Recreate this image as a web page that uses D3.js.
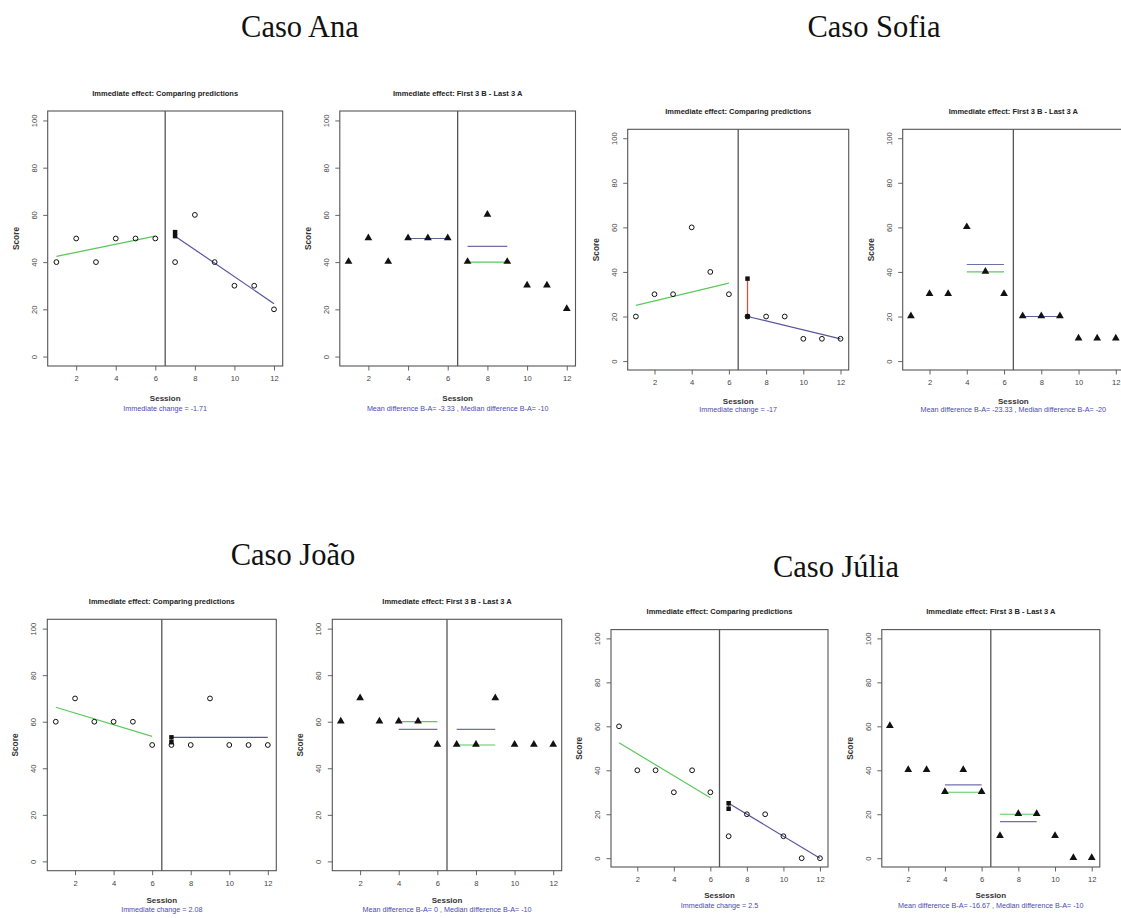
<!DOCTYPE html>
<html><head><meta charset="utf-8">
<script src="https://cdn.jsdelivr.net/npm/d3@7"></script>
<style>body{margin:0;background:#fff}svg{display:block}</style>
</head><body>
<script>
// ---------- data ----------
const caseNames = ["Caso Ana", "Caso Sofia", "Caso João", "Caso Júlia"];
const sessionsA = [1, 2, 3, 4, 5, 6];
const sessionsB = [7, 8, 9, 10, 11, 12];
const scoresA = [[40, 50, 40, 50, 50, 50], [20, 30, 30, 60, 40, 30], [60, 70, 60, 60, 60, 50], [60, 40, 40, 30, 40, 30]];
const scoresB = [[40, 60, 40, 30, 30, 20], [20, 20, 20, 10, 10, 10], [50, 50, 70, 50, 50, 50], [10, 20, 20, 10, 0, 0]];
const trendA = [[42.4, 51.0], [25, 35], [66.2, 53.7], [52.5, 27.5]];   // at sessions 1 and 6
const trendB = [[51.0, 22.4], [20, 10], [53.3, 53.3], [25, 0]];        // at sessions 7 and 12
const predictedA7 = [52.7, 37, 51.2, 22.5];
const predictedB7 = [51.0, 20, 53.3, 25];
const meanLastA = [50, 43.33, 56.67, 33.33];
const medianLastA = [50, 40, 60, 30];
const meanFirstB = [46.67, 20, 56.67, 16.67];
const medianFirstB = [40, 20, 50, 20];
const immediateLabels = ["Immediate change = -1.71", "Immediate change = -17", "Immediate change = 2.08", "Immediate change = 2.5"];
const diffLabels = [
  "Mean difference B-A= -3.33 , Median difference B-A= -10",
  "Mean difference B-A= -23.33 , Median difference B-A= -20",
  "Mean difference B-A= 0 , Median difference B-A= -10",
  "Mean difference B-A= -16.67 , Median difference B-A= -10"];
const xTicks = [2, 4, 6, 8, 10, 12];
const yTicks = [0, 20, 40, 60, 80, 100];
const titleLeft = "Immediate effect: Comparing predictions";
const titleRight = "Immediate effect: First 3 B - Last 3 A";
const xLabel = "Session", yLabel = "Score";
const phaseChange = 6.5;

// ---------- layout ----------
const layout = [
  {tx: 300, ty: 37, L: {l: 47.7, r: 282.7, t: 111, b: 366}, R: {l: 339.8, r: 575.5, t: 111, b: 366}, off: [35, 44.5]},
  {tx: 874, ty: 37, L: {l: 627.7, r: 848.7, t: 129.3, b: 370}, R: {l: 902.7, r: 1124, t: 129.3, b: 370}, off: [33.5, 42]},
  {tx: 293, ty: 565, L: {l: 47.3, r: 276.3, t: 619.3, b: 870.7}, R: {l: 332.3, r: 561.7, t: 619.3, b: 870.7}, off: [32, 41.5]},
  {tx: 836, ty: 577, L: {l: 611, r: 828, t: 629.6, b: 867}, R: {l: 881.8, r: 1099.8, t: 629.6, b: 867}, off: [31, 40.5]}
];

const GREEN = "#5cc85c", BLUE = "#55559c", RED = "#d05545", SUB = "#4a4ab0";
const FONT = "'Liberation Sans', Arial, sans-serif";

const svg = d3.select("body").append("svg").attr("width", 1121).attr("height", 918);

function frame(box, title, sub, off) {
  const g = svg.append("g");
  const x = d3.scaleLinear().domain([0.56, 12.44]).range([box.l, box.r]);
  const y = d3.scaleLinear().domain([-4, 104]).range([box.b, box.t]);
  const cx = (box.l + box.r) / 2, cy = (box.t + box.b) / 2;

  const ax = g.append("g").attr("transform", `translate(0,${box.b})`)
    .call(d3.axisBottom(x).tickValues(xTicks).tickSize(4.5).tickPadding(5));
  ax.select(".domain").remove();
  ax.selectAll("line").attr("stroke", "#666");
  ax.selectAll("text").attr("font-family", FONT).attr("font-size", 7.6).attr("fill", "#444");

  const ay = g.append("g").attr("transform", `translate(${box.l},0)`)
    .call(d3.axisLeft(y).tickValues(yTicks).tickSize(4.5));
  ay.select(".domain").remove();
  ay.selectAll("line").attr("stroke", "#666");
  ay.selectAll("text").attr("x", null).attr("dy", "0.35em").attr("text-anchor", "middle")
    .attr("transform", "translate(-13.5,0) rotate(-90)")
    .attr("font-family", FONT).attr("font-size", 7.6).attr("fill", "#444");

  g.append("rect").attr("x", box.l).attr("y", box.t).attr("width", box.r - box.l).attr("height", box.b - box.t)
    .attr("fill", "none").attr("stroke", "#555").attr("stroke-width", 1.1);
  g.append("line").attr("x1", x(phaseChange)).attr("x2", x(phaseChange)).attr("y1", box.t).attr("y2", box.b)
    .attr("stroke", "#555").attr("stroke-width", 1.3);

  g.append("text").attr("x", cx).attr("y", box.t - 15.5).attr("text-anchor", "middle")
    .attr("font-family", FONT).attr("font-size", 7.5).attr("font-weight", "bold").attr("fill", "#222").text(title);
  g.append("text").attr("transform", `translate(${box.l - 29},${cy}) rotate(-90)`).attr("text-anchor", "middle")
    .attr("font-family", FONT).attr("font-size", 8.3).attr("font-weight", "bold").attr("fill", "#333").text(yLabel);
  g.append("text").attr("x", cx).attr("y", box.b + off[0]).attr("text-anchor", "middle")
    .attr("font-family", FONT).attr("font-size", 8).attr("font-weight", "bold").attr("fill", "#333").text(xLabel);
  g.append("text").attr("x", cx).attr("y", box.b + off[1]).attr("text-anchor", "middle")
    .attr("font-family", FONT).attr("font-size", 7.2).attr("fill", SUB).text(sub);
  return {g, x, y};
}

caseNames.forEach((name, i) => {
  const lay = layout[i];
  svg.append("text").attr("x", lay.tx).attr("y", lay.ty).attr("text-anchor", "middle")
    .attr("font-family", "'Liberation Serif', 'Times New Roman', serif").attr("font-size", 30.5)
    .attr("fill", "#111").text(name);

  const pts = sessionsA.map((s, k) => ({s, v: scoresA[i][k]}))
    .concat(sessionsB.map((s, k) => ({s, v: scoresB[i][k]})));

  // ---- left panel: comparing predictions ----
  {
    const {g, x, y} = frame(lay.L, titleLeft, immediateLabels[i], lay.off);
    g.append("line").attr("x1", x(sessionsA[0])).attr("x2", x(sessionsA[5]))
      .attr("y1", y(trendA[i][0])).attr("y2", y(trendA[i][1])).attr("stroke", GREEN).attr("stroke-width", 1.2);
    g.append("line").attr("x1", x(sessionsB[0])).attr("x2", x(sessionsB[5]))
      .attr("y1", y(trendB[i][0])).attr("y2", y(trendB[i][1])).attr("stroke", BLUE).attr("stroke-width", 1.2);
    g.append("line").attr("x1", x(sessionsB[0])).attr("x2", x(sessionsB[0]))
      .attr("y1", y(predictedA7[i])).attr("y2", y(predictedB7[i])).attr("stroke", RED).attr("stroke-width", 1.3);
    g.selectAll("circle.pt").data(pts).join("circle").attr("class", "pt")
      .attr("cx", d => x(d.s)).attr("cy", d => y(d.v)).attr("r", 2.4)
      .attr("fill", "none").attr("stroke", "#111").attr("stroke-width", 1);
    g.selectAll("path.sq").data([predictedA7[i], predictedB7[i]]).join("path").attr("class", "sq")
      .attr("d", d3.symbol(d3.symbolSquare, 20))
      .attr("transform", d => `translate(${x(sessionsB[0])},${y(d)})`).attr("fill", "#111");
  }

  // ---- right panel: first 3 B - last 3 A ----
  {
    const {g, x, y} = frame(lay.R, titleRight, diffLabels[i], lay.off);
    const segs = [
      {a: sessionsA[3], b: sessionsA[5], v: medianLastA[i], c: GREEN},
      {a: sessionsB[0], b: sessionsB[2], v: medianFirstB[i], c: GREEN},
      {a: sessionsA[3], b: sessionsA[5], v: meanLastA[i], c: BLUE},
      {a: sessionsB[0], b: sessionsB[2], v: meanFirstB[i], c: BLUE}
    ];
    g.selectAll("line.seg").data(segs).join("line").attr("class", "seg")
      .attr("x1", d => x(d.a)).attr("x2", d => x(d.b)).attr("y1", d => y(d.v)).attr("y2", d => y(d.v))
      .attr("stroke", d => d.c).attr("stroke-width", 1.2).attr("stroke-opacity", d => d.c === BLUE ? 0.85 : 1);
    g.selectAll("path.tri").data(pts).join("path").attr("class", "tri")
      .attr("d", d3.symbol(d3.symbolTriangle, 26))
      .attr("transform", d => `translate(${x(d.s)},${y(d.v) - 0.5})`).attr("fill", "#111");
  }
});
</script>
</body></html>
